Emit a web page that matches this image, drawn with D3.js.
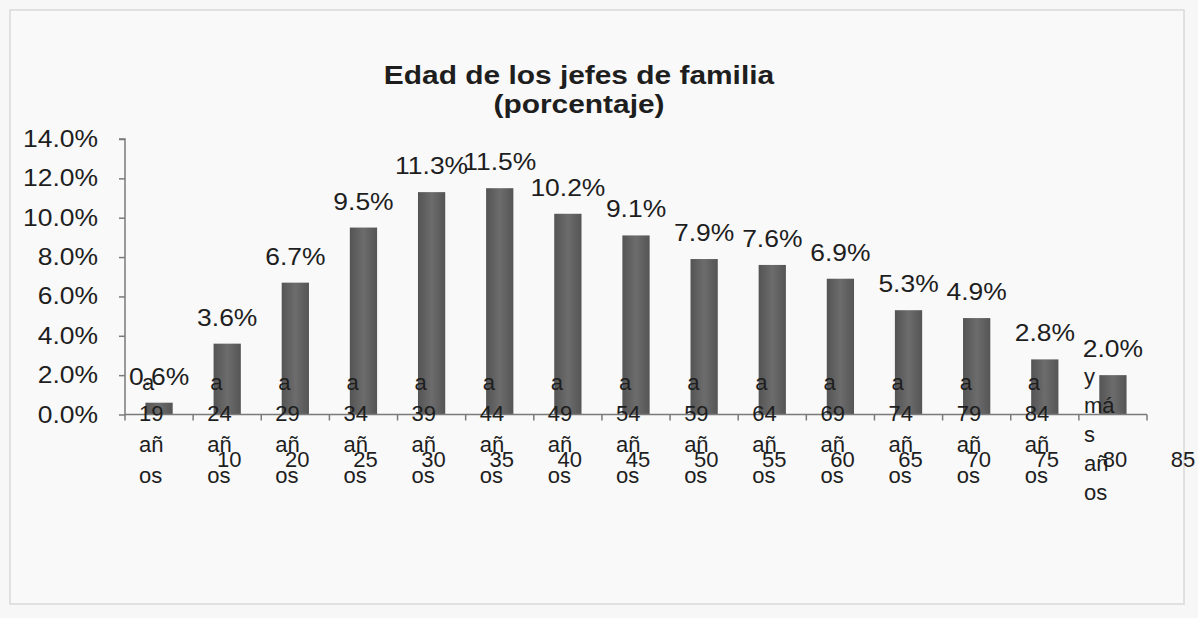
<!DOCTYPE html>
<html>
<head>
<meta charset="utf-8">
<script src="https://cdn.jsdelivr.net/npm/d3@7"></script>
<style>
  html, body { margin: 0; padding: 0; background: #f7f7f7; }
  svg { display: block; }
  text { font-family: "Liberation Sans", Arial, sans-serif; fill: #1e1e1e; }
</style>
</head>
<body>
<svg id="chart" width="1198" height="618"></svg>
<script>
// ---- data ----
const categories = ["10 a 19 años", "20 a 24 años", "25 a 29 años", "30 a 34 años", "35 a 39 años",
  "40 a 44 años", "45 a 49 años", "50 a 54 años", "55 a 59 años", "60 a 64 años",
  "65 a 69 años", "70 a 74 años", "75 a 79 años", "80 a 84 años", "85 y más años"];
const values = [0.6, 3.6, 6.7, 9.5, 11.3, 11.5, 10.2, 9.1, 7.9, 7.6, 6.9, 5.3, 4.9, 2.8, 2.0];
const yTicks = [0, 2, 4, 6, 8, 10, 12, 14];
const titleLines = ["Edad de los jefes de familia", "(porcentaje)"];

// ---- layout ----
const W = 1198, H = 618;
const plot = { left: 125, right: 1147, top: 139, bottom: 414.5 };
const SX = 1.15; // horizontal stretch of the reference text

const svg = d3.select("#chart");

// frame
svg.append("rect").attr("x", 0).attr("y", 0).attr("width", W).attr("height", H).attr("fill", "#f7f7f7");
svg.append("rect").attr("x", 10).attr("y", 10).attr("width", 1174).attr("height", 594)
  .attr("fill", "#f9f9f9").attr("stroke", "#d9d9d9").attr("stroke-width", 1.5);

const x = d3.scaleBand().domain(d3.range(categories.length))
  .range([plot.left, plot.right]).paddingInner(0.6).paddingOuter(0.3);
const step = x.step();
const y = d3.scaleLinear().domain([0, 14]).range([plot.bottom, plot.top]);

// gradient for bars
const defs = svg.append("defs");
const g = defs.append("linearGradient").attr("id", "barGrad").attr("x1", "0").attr("x2", "1").attr("y1", "0").attr("y2", "0");
g.append("stop").attr("offset", "0%").attr("stop-color", "#545454");
g.append("stop").attr("offset", "50%").attr("stop-color", "#6c6c6c");
g.append("stop").attr("offset", "100%").attr("stop-color", "#555555");

function stretchedText(sel, tx, ty, s) {
  return sel.attr("transform", `translate(${tx},${ty}) scale(${s},1)`);
}

// title
svg.append("g").selectAll("text").data(titleLines).join("text")
  .each(function (d, i) {
    stretchedText(d3.select(this), 579, 84 + i * 29, SX);
  })
  .attr("text-anchor", "middle").attr("font-size", 26).attr("font-weight", "bold")
  .attr("fill", "#222")
  .text(d => d);

// y axis
const yAxis = svg.append("g").attr("transform", `translate(${plot.left},0)`)
  .call(d3.axisLeft(y).tickValues(yTicks).tickSize(6).tickFormat(() => ""));
yAxis.select(".domain").attr("stroke", "#7a7a7a").attr("stroke-width", 1.5).attr("d", `M-6,${y(14)}H0V${y(0)}`);
yAxis.selectAll(".tick line").attr("stroke", "#7a7a7a").attr("stroke-width", 1.5);
svg.append("g").selectAll("text").data(yTicks).join("text")
  .each(function (d) { stretchedText(d3.select(this), 98, y(d) + 8, SX); })
  .attr("text-anchor", "end").attr("font-size", 23)
  .text(d => d.toFixed(1) + "%");

// bars
svg.append("g").selectAll("rect").data(values).join("rect")
  .attr("x", (d, i) => x(i)).attr("width", x.bandwidth())
  .attr("y", d => y(d)).attr("height", d => y(0) - y(d))
  .attr("fill", "url(#barGrad)");

// x axis (boundaries ticks)
const bounds = d3.range(categories.length + 1).map(i => plot.left + i * step);
const xAxisG = svg.append("g");
xAxisG.append("line").attr("x1", plot.left).attr("x2", plot.right)
  .attr("y1", y(0)).attr("y2", y(0)).attr("stroke", "#7a7a7a").attr("stroke-width", 1.5);
xAxisG.selectAll("line.t").data(bounds).join("line").attr("class", "t")
  .attr("x1", d => d).attr("x2", d => d).attr("y1", y(0)).attr("y2", y(0) + 6)
  .attr("stroke", "#7a7a7a").attr("stroke-width", 1.5);

// value labels
svg.append("g").selectAll("text").data(values).join("text")
  .each(function (d, i) { stretchedText(d3.select(this), x(i) + x.bandwidth() / 2, y(d) - 18, SX); })
  .attr("text-anchor", "middle").attr("font-size", 23)
  .text(d => d.toFixed(1) + "%");

// category labels, wrapped into narrow lines as in the reference
function wrapLines(rest) {
  const out = [];
  rest.split(" ").forEach(w => {
    for (let k = 0; k < w.length; k += 2) out.push(w.slice(k, k + 2));
  });
  return out;
}
const catG = svg.append("g");
categories.forEach((c, i) => {
  const parts = c.split(" ");
  const start = parts[0];
  const lines = wrapLines(parts.slice(1).join(" "));
  const cx = x(i) + x.bandwidth() / 2;
  const last = lines.length > 4;
  const base = last ? 384 : 390;
  const lh = last ? 29 : 31;
  const left = cx - (last ? 29 : 20);
  lines.forEach((ln, k) => {
    catG.append("text").attr("x", left + (ln.length === 1 && !last ? 3 : 0)).attr("y", base + k * lh)
      .attr("text-anchor", "start").attr("font-size", 22).text(ln);
  });
  // the first part of each label appears shifted one slot to the right
  catG.append("text").attr("x", cx + step + 2).attr("y", 467)
    .attr("text-anchor", "middle").attr("font-size", 22).text(start);
});
</script>
</body>
</html>
